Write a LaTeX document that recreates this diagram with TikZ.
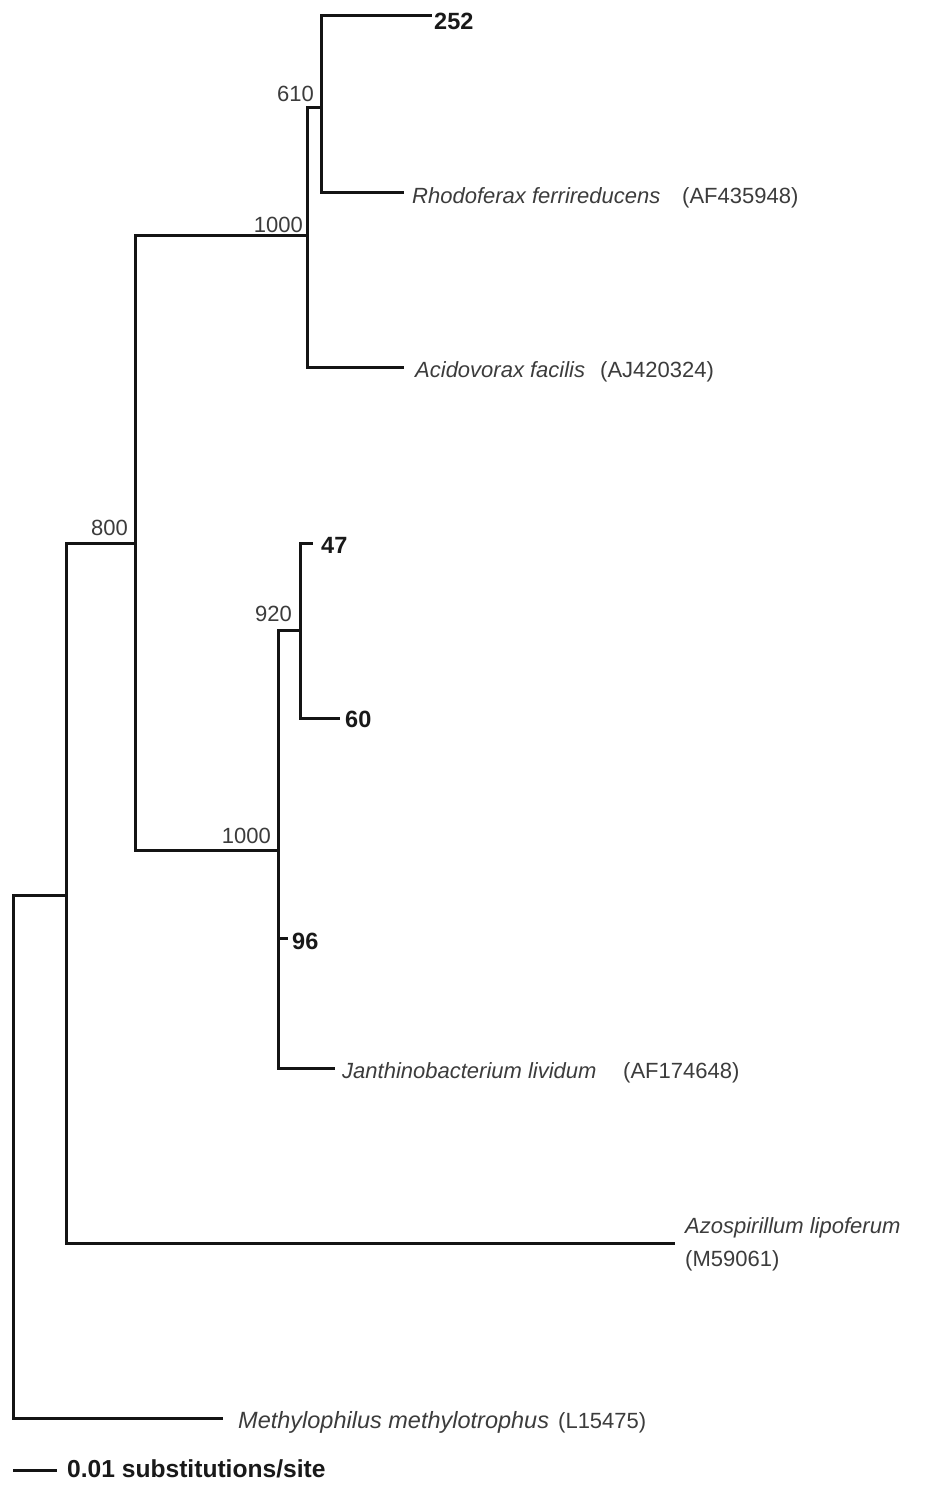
\documentclass[tikz,border=0pt]{standalone}
\usepackage{fontspec}
\setmainfont{Liberation Sans}
\definecolor{lineblack}{RGB}{20,20,20}
\definecolor{txtgray}{RGB}{60,60,60}
\definecolor{numblack}{RGB}{25,25,25}
\begin{document}
\begin{tikzpicture}[x=1pt,y=-1pt,
  br/.style={draw=lineblack, line width=3pt, line cap=butt, line join=miter},
  species/.style={anchor=base west, inner sep=0pt, text=txtgray, font=\fontsize{22}{26}\selectfont\itshape},
  acc/.style={anchor=base west, inner sep=0pt, text=txtgray, font=\fontsize{22}{26}\selectfont},
  boot/.style={anchor=base east, inner sep=0pt, text=txtgray, font=\fontsize{22}{26}\selectfont},
  otu/.style={anchor=base west, inner sep=0pt, text=numblack, font=\fontsize{23.5}{27}\selectfont\bfseries}]
\fill[white] (0,0) rectangle (927,1485);
\useasboundingbox (0,0) rectangle (927,1485);
% internal nodes
\coordinate (R) at (13,895);
\coordinate (A) at (66,895);
\coordinate (B) at (135,543);
\coordinate (C) at (307,235);
\coordinate (E) at (321,108);
\coordinate (D) at (278,850);
\coordinate (F) at (300,630);
% leaf tips
\coordinate (t252) at (432,16);
\coordinate (tRho) at (404,192);
\coordinate (tAci) at (404,367);
\coordinate (t47) at (313,543);
\coordinate (t60) at (340,718);
\coordinate (t96) at (288,938);
\coordinate (tJan) at (335,1068);
\coordinate (tAzo) at (675,1243);
\coordinate (tMeth) at (223,1418);
% branches
\draw[br] (A) -- (R) |- (tMeth);
\draw[br] (A) |- (B);
\draw[br] (A) |- (tAzo);
\draw[br] (B) |- (C);
\draw[br] (B) |- (D);
\draw[br] (C) |- (E);
\draw[br] (C) |- (tAci);
\draw[br] (E) |- (t252);
\draw[br] (E) |- (tRho);
\draw[br] (D) |- (F);
\draw[br] (D) |- (t96);
\draw[br] (D) |- (tJan);
\draw[br] (F) |- (t47);
\draw[br] (F) |- (t60);
% bootstrap values
\node[boot] (b800) at (128,535) {800};
\node[boot] (b1000c) at (303,232) {1000};
\node[boot] (b610) at (314,102) {610};
\node[boot] (b1000d) at (271,843) {1000};
\node[boot] (b920) at (292,621) {920};
% leaf labels
\node[otu] (l252) at (434,30) {252};
\node[species] (nRho) at (412,203) {Rhodoferax ferrireducens};
\node[acc] (aRho) at (682,203) {(AF435948)};
\node[species] (nAci) at (415,377) {Acidovorax facilis};
\node[acc] (aAci) at (600,377) {(AJ420324)};
\node[otu] (l47) at (321,553) {47};
\node[otu] (l60) at (345,727) {60};
\node[otu] (l96) at (292,949) {96};
\node[species] (nJan) at (342,1078) {Janthinobacterium lividum};
\node[acc] (aJan) at (623,1078) {(AF174648)};
\node[species] (nAzo) at (685,1233) {Azospirillum lipoferum};
\node[acc] (aAzo) at (685,1266) {(M59061)};
\node[species, font=\fontsize{23.5}{27}\selectfont\itshape] (nMeth) at (238,1428) {Methylophilus methylotrophus};
\node[acc] (aMeth) at (558,1428) {(L15475)};
% scale bar
\coordinate (s0) at (13,1470);
\coordinate (s1) at (57,1470);
\draw[br] (s0) -- (s1);
\node[otu, font=\fontsize{24.6}{28}\selectfont\bfseries] (scale) at (67,1477) {0.01 substitutions/site};
\end{tikzpicture}
\end{document}
